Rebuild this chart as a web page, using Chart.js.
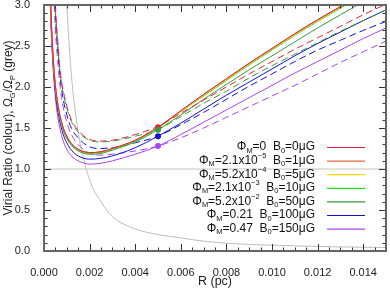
<!DOCTYPE html>
<html>
<head>
<meta charset="utf-8">
<script src="https://cdn.jsdelivr.net/npm/chart.js@4.4.1/dist/chart.umd.min.js"></script>
<style>
  html, body { margin: 0; padding: 0; background: #fff; }
  canvas { display: block; }
</style>
</head>
<body>
<canvas id="virial" width="390" height="290"></canvas>
<script>
// radius grids (pc)
const rSolid  = [0.00025, 0.0003, 0.0004, 0.0005, 0.0006, 0.0008, 0.001, 0.0012, 0.0015, 0.002, 0.0025, 0.003, 0.004, 0.005, 0.006, 0.007, 0.008, 0.009, 0.010, 0.011, 0.012, 0.013, 0.014, 0.015];
const rDashed = [0.00045, 0.0005, 0.0006, 0.0007, 0.0008, 0.001, 0.0012, 0.0015, 0.002, 0.0025, 0.003, 0.004, 0.005, 0.006, 0.007, 0.008, 0.009, 0.010, 0.011, 0.012, 0.013, 0.014, 0.015];
const rGrey   = [0.00095, 0.001, 0.0012, 0.0015, 0.002, 0.0025, 0.003, 0.004, 0.005, 0.006, 0.007, 0.008, 0.009, 0.010, 0.011, 0.012, 0.013, 0.014, 0.015];

// virial ratio, solid lines
const redSolid    = [3.45, 2.95, 2.37, 2.02, 1.80, 1.54, 1.40, 1.31, 1.24, 1.20, 1.21, 1.25, 1.35, 1.51, 1.71, 1.91, 2.10, 2.29, 2.47, 2.65, 2.82, 2.98, 3.14, 3.30];
const orangeSolid = [3.45, 2.95, 2.37, 2.02, 1.80, 1.54, 1.40, 1.31, 1.24, 1.20, 1.21, 1.25, 1.35, 1.51, 1.71, 1.91, 2.10, 2.29, 2.47, 2.65, 2.82, 2.98, 3.14, 3.30];
const yellowSolid = [3.44, 2.94, 2.36, 2.02, 1.80, 1.54, 1.40, 1.31, 1.24, 1.20, 1.21, 1.25, 1.35, 1.51, 1.70, 1.90, 2.09, 2.28, 2.46, 2.64, 2.81, 2.97, 3.13, 3.29];
const limeSolid   = [3.44, 2.94, 2.36, 2.01, 1.79, 1.53, 1.39, 1.30, 1.23, 1.19, 1.20, 1.24, 1.34, 1.50, 1.70, 1.89, 2.08, 2.27, 2.45, 2.63, 2.80, 2.96, 3.12, 3.27];
const greenSolid  = [3.40, 2.90, 2.34, 1.99, 1.77, 1.51, 1.37, 1.29, 1.22, 1.18, 1.19, 1.23, 1.33, 1.48, 1.66, 1.85, 2.03, 2.21, 2.38, 2.55, 2.72, 2.88, 3.04, 3.19];
const blueSolid   = [3.35, 2.85, 2.29, 1.94, 1.72, 1.46, 1.32, 1.23, 1.16, 1.12, 1.13, 1.16, 1.26, 1.40, 1.56, 1.73, 1.90, 2.06, 2.22, 2.38, 2.53, 2.67, 2.81, 2.94];
const purpleSolid = [3.25, 2.80, 2.22, 1.87, 1.64, 1.38, 1.24, 1.16, 1.10, 1.06, 1.07, 1.10, 1.18, 1.28, 1.42, 1.57, 1.72, 1.87, 2.02, 2.17, 2.31, 2.45, 2.59, 2.72];

// virial ratio, dashed lines
const redDashed    = [3.40, 3.00, 2.57, 2.22, 2.02, 1.77, 1.60, 1.47, 1.36, 1.34, 1.35, 1.42, 1.52, 1.68, 1.84, 2.00, 2.16, 2.31, 2.46, 2.60, 2.74, 2.88, 3.01];
const greenDashed  = [3.35, 2.95, 2.52, 2.19, 1.99, 1.74, 1.58, 1.45, 1.35, 1.33, 1.34, 1.40, 1.48, 1.64, 1.80, 1.95, 2.11, 2.26, 2.40, 2.54, 2.68, 2.81, 2.94];
const blueDashed   = [3.30, 2.90, 2.47, 2.14, 1.92, 1.66, 1.50, 1.38, 1.27, 1.25, 1.26, 1.32, 1.40, 1.54, 1.69, 1.85, 2.01, 2.16, 2.31, 2.45, 2.57, 2.69, 2.80];
const purpleDashed = [3.00, 2.70, 2.32, 2.02, 1.82, 1.57, 1.42, 1.30, 1.19, 1.17, 1.18, 1.22, 1.28, 1.38, 1.50, 1.63, 1.76, 1.89, 2.02, 2.16, 2.30, 2.43, 2.56];

// markers at R = 0.005 pc
const dotR = [0.005, 0.005, 0.005, 0.005];
const dotV = [1.51, 1.48, 1.40, 1.28];

// Omega_G / Omega_P (grey)
const greyRatio = [3.3, 3.0, 2.15, 1.45, 0.87, 0.60, 0.42, 0.27, 0.20, 0.16, 0.12, 0.095, 0.08, 0.07, 0.062, 0.056, 0.05, 0.046, 0.043];
const unityR = [0, 0.015];
const unityV = [1, 1];

const colours = {
  red: '#e8203c', orange: '#f26a3a', yellow: '#ffd400', lime: '#22e022',
  green: '#3a9a3a', blue: '#1010d8', purple: '#a846f0'
};

const legendColours = [colours.red, colours.orange, colours.yellow, colours.lime, colours.green, colours.blue, colours.purple];
// text pieces: '' normal, 's' subscript, 'u' superscript
const legendLabels = [
  [['Φ', ''], ['M', 's'], ['=0  B', ''], ['0', 's'], ['=0μG', '']],
  [['Φ', ''], ['M', 's'], ['=2.1x10', ''], ['−5', 'u'], ['  B', ''], ['0', 's'], ['=1μG', '']],
  [['Φ', ''], ['M', 's'], ['=5.2x10', ''], ['−4', 'u'], ['  B', ''], ['0', 's'], ['=5μG', '']],
  [['Φ', ''], ['M', 's'], ['=2.1x10', ''], ['−3', 'u'], ['  B', ''], ['0', 's'], ['=10μG', '']],
  [['Φ', ''], ['M', 's'], ['=5.2x10', ''], ['−2', 'u'], ['  B', ''], ['0', 's'], ['=50μG', '']],
  [['Φ', ''], ['M', 's'], ['=0.21  B', ''], ['0', 's'], ['=100μG', '']],
  [['Φ', ''], ['M', 's'], ['=0.47  B', ''], ['0', 's'], ['=150μG', '']]
];
const yTitle = [['Virial Ratio (colour), Ω', ''], ['G', 's'], ['/Ω', ''], ['P', 's'], [' (grey)', '']];

const FONT = '"Liberation Sans", Arial, sans-serif';

function pts(xs, ys) {
  return xs.map((x, i) => ({ x: x, y: ys[i] }));
}

function curve(xs, ys, colour, dashed) {
  return {
    data: pts(xs, ys),
    borderColor: colour,
    borderWidth: 1,
    borderDash: dashed ? [7, 4] : [],
    pointRadius: 0,
    fill: false,
    cubicInterpolationMode: 'monotone',
    clip: 0
  };
}

// draws a run of text with sub/superscripts
function drawRich(ctx, parts, x, y, align, size) {
  const small = size * 0.62;
  let w = 0;
  parts.forEach(p => {
    ctx.font = (p[1] ? small : size) + 'px ' + FONT;
    w += ctx.measureText(p[0]).width;
  });
  let cx = align === 'right' ? x - w : (align === 'center' ? x - w / 2 : x);
  ctx.textAlign = 'left';
  ctx.textBaseline = 'middle';
  parts.forEach(p => {
    ctx.font = (p[1] ? small : size) + 'px ' + FONT;
    let dy = 0;
    if (p[1] === 's') dy = size * 0.3;
    if (p[1] === 'u') dy = -size * 0.38;
    ctx.fillText(p[0], cx, y + dy);
    cx += ctx.measureText(p[0]).width;
  });
}

const idlFrame = {
  id: 'idlFrame',
  afterDatasetsDraw(chart) {
    const { ctx, chartArea: a, scales: { x, y } } = chart;
    ctx.save();

    // inward ticks on all four sides
    ctx.strokeStyle = '#333';
    ctx.lineWidth = 1;
    ctx.beginPath();
    for (let k = 0; k <= 30; k++) {
      const px = Math.round(x.getPixelForValue(k * 0.0005)) + 0.5;
      const len = k % 4 === 0 ? 7 : 3.5;
      ctx.moveTo(px, a.bottom); ctx.lineTo(px, a.bottom - len);
      ctx.moveTo(px, a.top); ctx.lineTo(px, a.top + len);
    }
    for (let k = 0; k <= 30; k++) {
      const py = Math.round(y.getPixelForValue(k * 0.1)) + 0.5;
      const len = k % 5 === 0 ? 7 : 3.5;
      ctx.moveTo(a.left, py); ctx.lineTo(a.left + len, py);
      ctx.moveTo(a.right, py); ctx.lineTo(a.right - len, py);
    }
    ctx.stroke();

    ctx.strokeStyle = '#666';
    ctx.lineWidth = 2;
    ctx.strokeRect(a.left, a.top, a.width, a.height);

    // legend
    ctx.fillStyle = '#111';
    legendLabels.forEach((parts, i) => {
      const ly = 147 + i * 13.6;
      drawRich(ctx, parts, 315, ly, 'right', 12);
      ctx.strokeStyle = legendColours[i];
      ctx.lineWidth = 1.2;
      ctx.beginPath();
      ctx.moveTo(327, ly + 0.5);
      ctx.lineTo(365, ly + 0.5);
      ctx.stroke();
    });

    // y title
    ctx.translate(9, (a.top + a.bottom) / 2);
    ctx.rotate(-Math.PI / 2);
    ctx.fillStyle = '#222';
    drawRich(ctx, yTitle, 0, 0, 'center', 12);
    ctx.restore();
  }
};

new Chart(document.getElementById('virial'), {
  type: 'line',
  data: {
    datasets: [
      {
        data: pts(dotR, dotV),
        showLine: false,
        pointRadius: 3,
        pointBorderWidth: 0,
        pointBackgroundColor: [colours.red, colours.green, colours.blue, colours.purple]
      },
      curve(rSolid, redSolid, colours.red, false),
      curve(rDashed, redDashed, colours.red, true),
      curve(rSolid, orangeSolid, colours.orange, false),
      curve(rSolid, yellowSolid, colours.yellow, false),
      curve(rSolid, limeSolid, colours.lime, false),
      curve(rSolid, greenSolid, colours.green, false),
      curve(rDashed, greenDashed, colours.green, true),
      curve(rSolid, blueSolid, colours.blue, false),
      curve(rDashed, blueDashed, colours.blue, true),
      curve(rSolid, purpleSolid, colours.purple, false),
      curve(rDashed, purpleDashed, colours.purple, true),
      curve(rGrey, greyRatio, '#bdbdbd', false),
      Object.assign(curve(unityR, unityV, '#c4c4c4', false), { cubicInterpolationMode: 'default', tension: 0 })
    ]
  },
  options: {
    responsive: false,
    animation: false,
    devicePixelRatio: 1,
    layout: { padding: { top: 5, right: 3, left: 0, bottom: 0 } },
    plugins: { legend: { display: false }, tooltip: { enabled: false } },
    scales: {
      x: {
        type: 'linear',
        min: 0,
        max: 0.015,
        grid: { display: false },
        border: { display: false },
        ticks: {
          stepSize: 0.002,
          includeBounds: false,
          autoSkip: false,
          maxRotation: 0,
          padding: 7,
          color: '#222',
          font: { family: FONT, size: 11 },
          callback: v => v.toFixed(3)
        },
        title: {
          display: true,
          text: 'R (pc)',
          color: '#222',
          font: { family: FONT, size: 12.5 },
          padding: { top: 0, bottom: 1 }
        },
        afterFit: s => { s.height = 39; s.paddingLeft = 0; s.paddingRight = 0; }
      },
      y: {
        min: 0,
        max: 3,
        grid: { display: false },
        border: { display: false },
        ticks: {
          stepSize: 0.5,
          padding: 6,
          color: '#222',
          font: { family: FONT, size: 11 },
          callback: v => v.toFixed(1)
        },
        afterFit: s => { s.width = 44; s.paddingTop = 0; s.paddingBottom = 0; }
      }
    }
  },
  plugins: [idlFrame]
});
</script>
</body>
</html>
